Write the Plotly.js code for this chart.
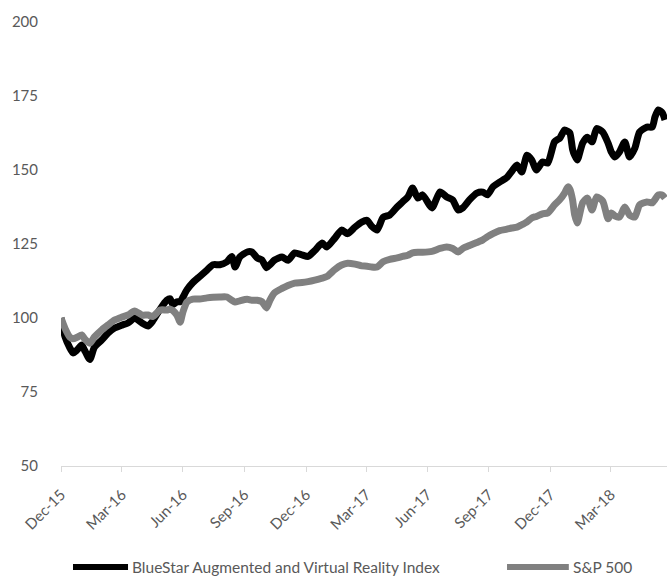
<!DOCTYPE html>
<html>
<head>
<meta charset="utf-8">
<script src="https://cdn.plot.ly/plotly-3.0.1.min.js"></script>
<style>html,body{margin:0;padding:0;background:#fff;}#chart{width:667px;height:577px;}</style>
</head>
<body>
<div id="chart"></div>
<script>
const dates = ['2015-12-31','2016-01-06','2016-01-13','2016-01-18','2016-01-24','2016-01-31','2016-02-04','2016-02-12','2016-02-19','2016-03-01','2016-03-10','2016-03-20','2016-03-31','2016-04-09','2016-04-19','2016-04-30','2016-05-09','2016-05-16','2016-05-27','2016-06-06','2016-06-11','2016-06-15','2016-06-21','2016-06-26','2016-06-30','2016-07-06','2016-07-15','2016-07-25','2016-08-05','2016-08-14','2016-08-24','2016-09-04','2016-09-11','2016-09-16','2016-09-23','2016-10-04','2016-10-11','2016-10-19','2016-10-26','2016-11-02','2016-11-07','2016-11-14','2016-11-25','2016-12-04','2016-12-14','2016-12-25','2017-01-03','2017-01-13','2017-01-24','2017-01-31','2017-02-12','2017-02-22','2017-03-03','2017-03-14','2017-03-24','2017-04-01','2017-04-08','2017-04-16','2017-04-25','2017-05-05','2017-05-16','2017-05-24','2017-06-01','2017-06-08','2017-06-16','2017-06-23','2017-07-07','2017-07-19','2017-07-29','2017-08-07','2017-08-15','2017-08-22','2017-09-01','2017-09-12','2017-09-21','2017-09-28','2017-10-06','2017-10-16','2017-10-27','2017-11-03','2017-11-11','2017-11-18','2017-11-26','2017-12-03','2017-12-10','2017-12-19','2017-12-27','2018-01-06','2018-01-14','2018-01-21','2018-01-26','2018-01-29','2018-02-02','2018-02-05','2018-02-09','2018-02-17','2018-02-24','2018-03-03','2018-03-10','2018-03-19','2018-03-27','2018-04-01','2018-04-06','2018-04-13','2018-04-21','2018-04-28','2018-05-06','2018-05-13','2018-05-24','2018-06-01','2018-06-05','2018-06-10','2018-06-16','2018-06-20'];

const bluestar = [100,93.7,90,88.2,89.2,90.9,89.2,86,90.2,92.6,94.9,96.6,97.6,98.3,100,98.3,97.3,99,103,106,106.5,104.5,105.5,105.5,107,109.5,112,114,116.2,118,118,119,120.8,117.2,120.6,122.3,122.3,120.3,119.6,117,118,119.6,120.6,119.5,122,121.3,120.8,122.8,125.3,124,127,129.7,128.5,130.7,132.4,133,131,129.7,134,134.8,137.5,139.2,140.9,143.9,140.5,141.6,137.2,142.6,140.9,139.9,136.5,137.2,139.9,142.2,142.5,141.6,144.3,145.9,147.5,149.5,151.7,149.3,155,153.4,150,152.7,152.4,159.5,160.8,163.5,163,162.5,157,155,153.4,159.1,161.1,159.5,164,162.8,159.1,156,154.4,156.1,159.5,154.4,157.4,162.8,164.5,164.5,167.9,170.3,169.3,166.9];

const sp500 = [100,96.5,93.6,93,93.5,94.3,93,91.5,93.6,96,97.6,99.3,100.3,101,102.4,101,101,100.5,102.7,102.7,103,102.5,101,98.6,102,105.4,106.4,106.4,106.8,107,107.1,107.1,106,105.4,105.8,106.3,106,106,105.5,103.4,106,108.5,110,111,111.8,112,112.3,112.8,113.5,114,116.4,117.9,118.5,118.2,117.6,117.5,117.2,117.2,119,119.8,120.3,120.8,121.2,122,122.2,122.2,122.5,123.5,124,123.5,122.3,123.5,124.5,125.5,126.4,127.5,128.5,129.5,130,130.4,130.7,131.5,132.5,133.8,134.3,135.2,135.5,138.2,140,142.2,144.3,143.5,139.9,135,132.1,138.9,140.5,136.5,140.9,139.5,133.5,135.5,134.5,134.1,137.5,134.8,134.1,138.2,139.2,138.9,140,141.6,141.5,140.5];

const seriesNames = ['BlueStar Augmented and Virtual Reality Index', 'S&P 500'];
const tickDates = ['2015-12-31','2016-03-31','2016-06-30','2016-09-30','2016-12-31','2017-03-31','2017-06-30','2017-09-30','2017-12-31','2018-03-31'];
const tickLabels = ['Dec-15','Mar-16','Jun-16','Sep-16','Dec-16','Mar-17','Jun-17','Sep-17','Dec-17','Mar-18'];
const yTicks = [50,75,100,125,150,175,200];

const font = {family: 'Lato, "Open Sans", sans-serif', size: 15, color: '#595959'};
const legFont = {family: 'Lato, "Open Sans", sans-serif', size: 15.5, color: '#595959'};
const colors = ['#000000', '#808080'];

const traces = [
  {x: dates, y: bluestar, type: 'scatter', mode: 'lines', name: seriesNames[0],
   line: {color: colors[0], width: 7, shape: 'spline', smoothing: 0.6}},
  {x: dates, y: sp500, type: 'scatter', mode: 'lines', name: seriesNames[1],
   line: {color: colors[1], width: 7, shape: 'spline', smoothing: 0.6}}
];

// custom legend below the chart
const legY = -0.2275;
const legItems = [{x0: 0.0198, x1: 0.1106, tx: 0.1140}, {x0: 0.736, x1: 0.838, tx: 0.8415}];
const shapes = legItems.map((it, i) => ({type: 'line', xref: 'paper', yref: 'paper', x0: it.x0, x1: it.x1, y0: legY, y1: legY,
  line: {color: colors[i], width: 6}}));
const annotations = legItems.map((it, i) => ({xref: 'paper', yref: 'paper', x: it.tx, y: legY, xanchor: 'left', yanchor: 'middle',
  text: seriesNames[i].replace('&', '&amp;'), showarrow: false, font: legFont}));

const layout = {
  width: 667, height: 577,
  margin: {l: 61, r: 0, t: 22, b: 111},
  paper_bgcolor: '#ffffff', plot_bgcolor: '#ffffff',
  font: font,
  showlegend: false,
  shapes: shapes,
  annotations: annotations,
  xaxis: {type: 'date', range: ['2015-12-31', '2018-06-23'], tickmode: 'array', tickvals: tickDates, ticktext: tickLabels,
          tickangle: -45, showgrid: false, zeroline: false, showline: true, linecolor: '#d9d9d9', linewidth: 1,
          ticks: 'outside', ticklen: 5, tickcolor: '#d9d9d9', tickfont: font, ticklabelstandoff: 8, automargin: false},
  yaxis: {range: [50, 200], tickmode: 'array', tickvals: yTicks, showgrid: false, zeroline: false, showline: false,
          ticks: '', ticklabelstandoff: 22, tickfont: font, automargin: false}
};

Plotly.newPlot('chart', traces, layout, {displayModeBar: false, staticPlot: true});
</script>
</body>
</html>
